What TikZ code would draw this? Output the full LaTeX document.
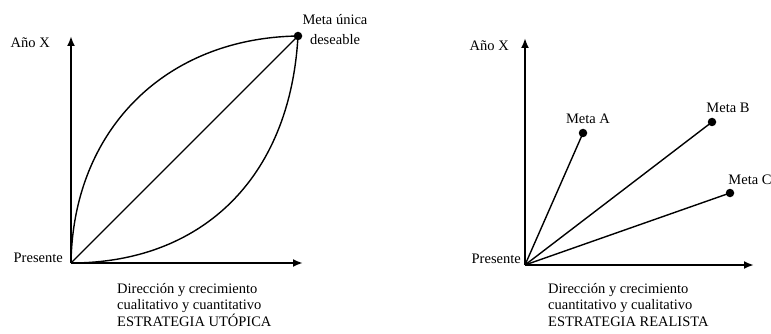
\documentclass[tikz,border=0pt]{standalone}
\usepackage{fontspec}
\setmainfont{Liberation Serif}
\usetikzlibrary{arrows, arrows.meta, positioning, calc}

\begin{document}
\begin{tikzpicture}[x=1pt, y=1pt,
    axis/.style={line width=2pt, -{Latex[length=10pt, width=8pt]}},
    route/.style={line width=1.4pt},
    goal/.style={circle, fill=black, inner sep=0pt, minimum size=8.5pt},
    lbl/.style={font=\fontsize{14.5}{20}\selectfont, inner sep=0pt},
    caption/.style={font=\fontsize{14.5}{16.5}\selectfont, align=left, inner sep=0pt, anchor=north west}]
    \useasboundingbox (0,0) rectangle (771,-334);

    % estrategia utopica
    \coordinate (o1) at (71,-263);
    \coordinate (y1) at (71,-36);
    \coordinate (x1) at (303,-263);
    \node[goal] (unica) at (298,-36) {};
    \draw[axis] (o1) -- (y1);
    \draw[axis] (o1) -- (x1);
    \draw[route] (o1) .. controls (73,-130) and (165,-38) .. (unica.center);
    \draw[route] (o1) -- (unica.center);
    \draw[route] (o1) .. controls (200,-263) and (290,-180) .. (unica.center);
    \node[lbl, anchor=base east] (anio1) at (50,-48) {Año X};
    \node[lbl, anchor=base east] (pres1) at (63,-262) {Presente};
    \node[lbl, align=center, anchor=north] (unicalbl) at (335,-14) {Meta única\\deseable};
    \node[caption] (cap1) at (117,-283) {Dirección y crecimiento\\cualitativo y cuantitativo\\ESTRATEGIA UTÓPICA};

    % estrategia realista
    \coordinate (o2) at (525,-265);
    \coordinate (y2) at (525,-38);
    \coordinate (x2) at (754,-265);
    \node[goal] (a) at (583,-133) {};
    \node[goal] (b) at (712,-122) {};
    \node[goal] (c) at (730,-193) {};
    \draw[axis] (o2) -- (y2);
    \draw[axis] (o2) -- (x2);
    \draw[route] (o2) -- (a.center);
    \draw[route] (o2) -- (b.center);
    \draw[route] (o2) -- (c.center);
    \node[lbl, above=5pt of a, xshift=5pt] (alb) {Meta A};
    \node[lbl, above=5pt of b, xshift=16pt] (blb) {Meta B};
    \node[lbl, above=4pt of c, xshift=20pt] (clb) {Meta C};
    \node[lbl, anchor=base east] (anio2) at (509,-51) {Año X};
    \node[lbl, anchor=base east] (pres2) at (521,-263) {Presente};
    \node[caption] (cap2) at (548,-283) {Dirección y crecimiento\\cuantitativo y cualitativo\\ESTRATEGIA REALISTA};
\end{tikzpicture}
\end{document}
